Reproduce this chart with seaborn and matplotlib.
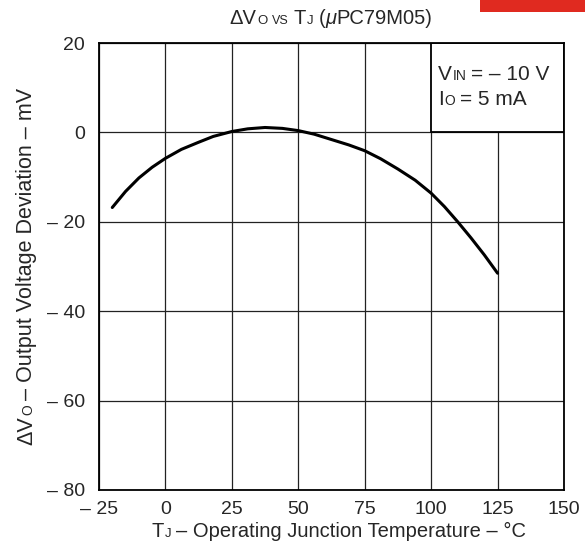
"""
Output voltage deviation vs junction temperature (uPC79M05)
"""
import pandas as pd
import matplotlib
matplotlib.use('Agg')
import matplotlib.pyplot as plt
import seaborn as sns
from matplotlib.patches import Rectangle

# --- data ---
tj = [-20, -15, -10, -5, 0, 6, 12.5, 18, 25, 31, 37.5, 44, 50, 56, 62.5, 69, 75,
      81, 87.5, 94, 100, 105, 110, 115, 120, 125]
dvo = [-16.8, -13.2, -10.2, -7.8, -5.8, -3.8, -2.2, -0.9, 0.2, 0.8, 1.1, 0.9, 0.4,
       -0.4, -1.6, -2.8, -4.1, -5.9, -8.2, -10.7, -13.6, -16.6, -20.0, -23.6, -27.4, -31.5]
x_ticks = [-25, 0, 25, 50, 75, 100, 125, 150]
x_labels = ['– 25', '0', '25', '50', '75', '100', '125', '150']
y_ticks = [-80, -60, -40, -20, 0, 20]
y_labels = ['– 80', '– 60', '– 40', '– 20', '0', '20']

df = pd.DataFrame({'TJ': tj, 'dVO': dvo})

sns.set_style('white')
plt.rcParams['font.family'] = ['Liberation Sans', 'DejaVu Sans']

W, H = 585, 556
fig = plt.figure(figsize=(W / 100, H / 100), dpi=100)
ax = fig.add_axes([99 / W, 1 - 490 / H, 465 / W, 447 / H])

sns.lineplot(data=df, x='TJ', y='dVO', color='black', linewidth=2.2, ax=ax, zorder=4)

ax.set_xlim(-25, 150)
ax.set_ylim(-80, 20)
ax.set_xticks(x_ticks)
ax.set_xticklabels(x_labels, fontsize=14)
ax.set_yticks(y_ticks)
ax.set_yticklabels(y_labels, fontsize=14)
ax.tick_params(axis='y', length=0, pad=10)
ax.tick_params(axis='x', length=0, pad=8)
ax.grid(True, color='#222222', linewidth=0.9)
for s in ax.spines.values():
    s.set_color('black')
    s.set_linewidth(1.3)
    s.set_zorder(5)
ax.set_xlabel('')
ax.set_ylabel('')

# condition box in the upper right corner
ax.add_patch(Rectangle((100, 0), 50, 20, facecolor='white', edgecolor='black',
                       linewidth=1.3, zorder=3))

renderer = fig.canvas.get_renderer()


def rich_text(x, y, runs, center=True, rot=0):
    """runs: (text, size, gap_px[, style]) placed one after another on one baseline (pixels)"""
    runs = [r if len(r) == 4 else (*r, 'normal') for r in runs]
    widths = []
    for txt, size, gap, style in runs:
        t = fig.text(0, 0, txt, fontsize=size, style=style)
        widths.append(t.get_window_extent(renderer).width)
        t.remove()
    total = sum(widths) + sum(r[2] for r in runs)
    pos = (x if rot == 0 else y) - (total / 2 if center else 0)
    for (txt, size, gap, style), w in zip(runs, widths):
        pos += gap
        if rot == 0:
            fig.text(pos / W, 1 - y / H, txt, fontsize=size, style=style,
                     ha='left', va='baseline')
        else:
            fig.text(x / W, pos / H, txt, fontsize=size, style=style, ha='left',
                     va='baseline', rotation=90, rotation_mode='anchor')
        pos += w


# title
rich_text(331, 23.5, [('ΔV', 14.5, 0), ('O', 9.5, 0.5), ('VS', 9, 5), ('T', 14.5, 5),
                      ('J', 9.5, 0.5), ('(', 14.5, 5), ('μ', 14.5, 0.5, 'italic'),
                      ('PC79M05)', 14.5, 0)])
# x label
rich_text(339, 537, [('T', 14.5, 0), ('J', 9.5, 0.5),
                     ('– Operating Junction Temperature – °C', 14.5, 5)])
# y label (rotated, position measured from bottom)
rich_text(32, 556 - 266, [('ΔV', 15.5, 0), ('O', 10, 0.5),
                          ('– Output Voltage Deviation – mV', 15.5, 5)], rot=90)
# conditions
rich_text(438, 80, [('V', 15, 0), ('IN', 10, 0.5), ('= – 10 V', 15, 5)], center=False)
rich_text(438, 105, [('I', 15, 0), ('O', 10, 0.5), ('= 5 mA', 15, 5)], center=False)

# red banner top right
fig.patches.append(Rectangle((480 / W, 1 - 12 / H), 105 / W, 12 / H,
                             transform=fig.transFigure, facecolor='#e02a20',
                             edgecolor='none', figure=fig))

fig.savefig('out.png', dpi=100)
